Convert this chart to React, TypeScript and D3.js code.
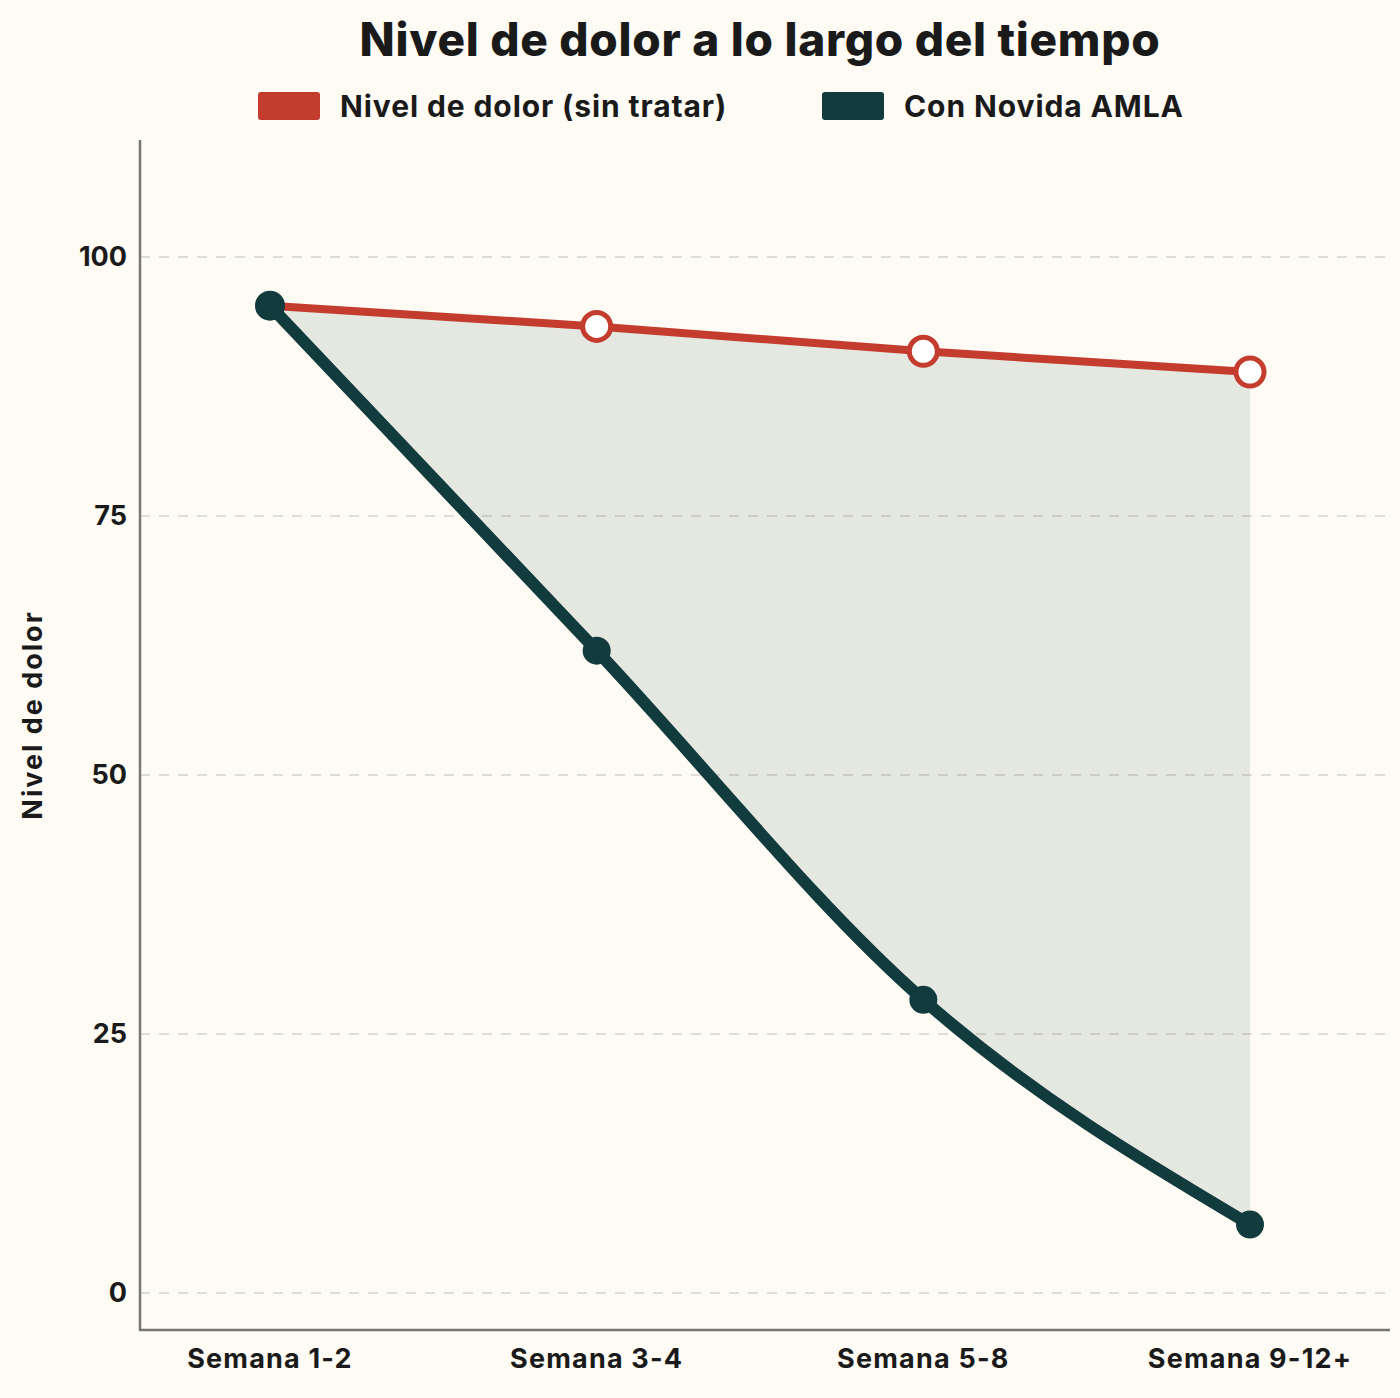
import React from "react";
import * as d3 from "d3";

const categories = ["Semana 1-2", "Semana 3-4", "Semana 5-8", "Semana 9-12+"];
const untreated = [95.3, 93.3, 90.9, 88.9];
const treated = [95.3, 62.0, 28.3, 6.6];
const yTicks = [0, 25, 50, 75, 100];
const seriesNames = ["Nivel de dolor (sin tratar)", "Con Novida AMLA"];

const W = 1400;
const H = 1398;
const BG = "#fdfbf4";
const RED = "#c43c2e";
const DARK = "#123b3d";
const FONT = "Inter, 'Noto Sans', sans-serif";

export default function App() {
  const left = 140;
  const right = 1390;
  const top = 140;
  const bottom = 1330;

  const x = d3.scalePoint<string>().domain(categories).range([left + 130, right - 140]).padding(0);
  const y = d3.scaleLinear().domain([0, 100]).range([1293, 257]);

  const idx = categories.map((_, i) => i);
  const px = (i: number) => x(categories[i]) as number;

  const redLine = d3.line<number>().x(px).y((i) => y(untreated[i])).curve(d3.curveLinear)(idx) as string;
  const darkLine = d3.line<number>().x(px).y((i) => y(treated[i])).curve(d3.curveMonotoneX)(idx) as string;

  const topPts = idx.map((i) => [px(i), y(untreated[i])] as [number, number]);
  const bottomPath = d3.line<number>().x(px).y((i) => y(treated[i])).curve(d3.curveMonotoneX)([...idx].reverse()) as string;
  const areaPath =
    "M" + topPts.map((p) => p.join(",")).join("L") + "L" + bottomPath.slice(1) + "Z";

  return (
    <div style={{ position: "absolute", left: 0, top: 0, width: W, height: H, background: BG }}>
      <svg width={W} height={H} style={{ display: "block" }}>
        <rect x={0} y={0} width={W} height={H} fill={BG} />
        <text x={760} y={56} textAnchor="middle" fontFamily={FONT} fontWeight={800} fontSize={46} fill="#1a1a1a" letterSpacing={0.7}>
          Nivel de dolor a lo largo del tiempo
        </text>
        {/* legend */}
        <rect x={258} y={92} width={62} height={28} rx={3} fill={RED} />
        <text x={340} y={117} fontFamily={FONT} fontWeight={700} fontSize={30} fill="#1a1a1a" letterSpacing={0.9}>
          {seriesNames[0]}
        </text>
        <rect x={822} y={92} width={62} height={28} rx={3} fill={DARK} />
        <text x={904} y={117} fontFamily={FONT} fontWeight={700} fontSize={30} fill="#1a1a1a" letterSpacing={0.9}>
          {seriesNames[1]}
        </text>

        {/* grid */}
        {yTicks.map((t) => (
          <line key={t} x1={left} x2={right} y1={y(t)} y2={y(t)} stroke="#d8d3cc" strokeWidth={1.5} strokeDasharray="10 9" />
        ))}

        {/* area */}
        <path d={areaPath} fill={DARK} fillOpacity={0.1} />

        {/* lines */}
        <path d={redLine} fill="none" stroke={RED} strokeWidth={8} strokeLinejoin="round" />
        <path d={darkLine} fill="none" stroke={DARK} strokeWidth={12} strokeLinecap="round" strokeLinejoin="round" />

        {/* red markers */}
        {untreated.map((v, i) =>
          i === 0 ? null : (
            <circle key={"r" + i} cx={px(i)} cy={y(v)} r={14} fill="#ffffff" stroke={RED} strokeWidth={5} />
          )
        )}
        {/* dark markers */}
        {treated.map((v, i) => (
          <circle key={"d" + i} cx={px(i)} cy={y(v)} r={i === 0 ? 15 : 14} fill={DARK} />
        ))}

        {/* axes */}
        <line x1={left} x2={left} y1={top} y2={bottom} stroke="#7d756f" strokeWidth={2.5} />
        <line x1={left - 1} x2={right} y1={bottom} y2={bottom} stroke="#7d756f" strokeWidth={2.5} />

        {yTicks.map((t) => (
          <text key={"yl" + t} x={127} y={y(t)} dy="0.35em" textAnchor="end" fontFamily={FONT} fontWeight={700} fontSize={27} fill="#1a1a1a">
            {t}
          </text>
        ))}
        {categories.map((c) => (
          <text key={c} x={x(c) as number} y={1368} textAnchor="middle" fontFamily={FONT} fontWeight={700} fontSize={27} fill="#1a1a1a" letterSpacing={1.2}>
            {c}
          </text>
        ))}
        <text
          transform={`translate(42, 715) rotate(-90)`}
          textAnchor="middle"
          fontFamily={FONT}
          fontWeight={700}
          fontSize={27}
          fill="#1a1a1a"
          letterSpacing={2}
        >
          Nivel de dolor
        </text>
      </svg>
    </div>
  );
}
